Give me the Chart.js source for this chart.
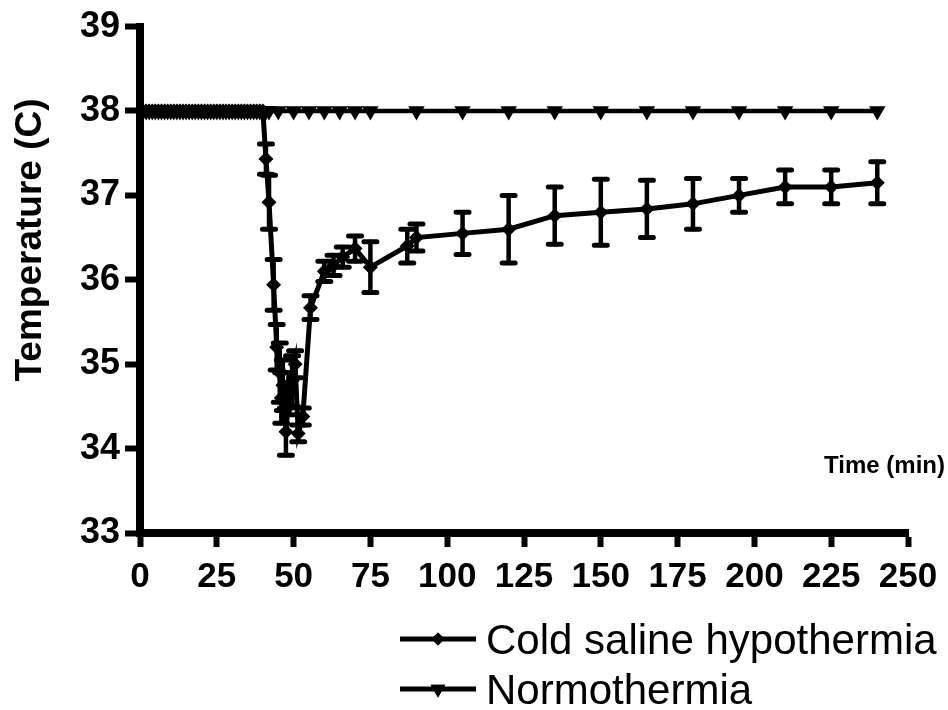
<!DOCTYPE html>
<html>
<head>
<meta charset="utf-8">
<script src="https://cdn.jsdelivr.net/npm/chart.js@4.4.0/dist/chart.umd.min.js"></script>
<style>
  body { margin: 0; background: #fff; }
  canvas { display: block; }
</style>
</head>
<body>
<canvas id="tempChart" width="948" height="710"></canvas>
<script>
// Cold saline hypothermia: time (min), mean temp (C), error (+/- C)
const coldTime = [
  0, 1, 2, 3, 4, 5, 6, 7, 8, 9, 10, 11, 12, 13, 14, 15, 16, 17, 18, 19, 20,
  21, 22, 23, 24, 25, 26, 27, 28, 29, 30, 31, 32, 33, 34, 35, 36, 37, 38, 39, 40,
  41, 42, 43.5, 44.5, 45.5, 46, 46.5, 47.5, 48.5, 49.5, 50.5, 51.5, 53, 55.5,
  60, 63, 66, 70, 75, 87, 90, 105, 120, 135, 150, 165, 180, 195, 210, 225, 240
];
const coldTemp = [
  38, 38, 38, 38, 38, 38, 38, 38, 38, 38, 38, 38, 38, 38, 38, 38, 38, 38, 38, 38, 38,
  38, 38, 38, 38, 38, 38, 38, 38, 38, 38, 38, 38, 38, 38, 38, 38, 38, 38, 38, 38,
  37.43, 36.92, 35.94, 35.2, 34.9, 34.6, 34.75, 34.2, 34.65, 34.8, 35.0, 34.18, 34.38, 35.67,
  36.1, 36.17, 36.27, 36.37, 36.15, 36.4, 36.5, 36.55, 36.6, 36.76, 36.8, 36.84, 36.9, 37.0, 37.1, 37.1, 37.15
];
const coldErr = [
  0, 0, 0, 0, 0, 0, 0, 0, 0, 0, 0, 0, 0, 0, 0, 0, 0, 0, 0, 0, 0,
  0, 0, 0, 0, 0, 0, 0, 0, 0, 0, 0, 0, 0, 0, 0, 0, 0, 0, 0, 0,
  0.18, 0.32, 0.3, 0.27, 0.35, 0.3, 0.3, 0.28, 0.25, 0.3, 0.16, 0.1, 0.1, 0.14,
  0.12, 0.12, 0.12, 0.15, 0.3, 0.2, 0.16, 0.25, 0.4, 0.34, 0.39, 0.34, 0.3, 0.2, 0.2, 0.2, 0.25
];

// Normothermia
const normTime = [
  0, 1, 2, 3, 4, 5, 6, 7, 8, 9, 10, 11, 12, 13, 14, 15, 16, 17, 18, 19, 20,
  21, 22, 23, 24, 25, 26, 27, 28, 29, 30, 31, 32, 33, 34, 35, 36, 37, 38, 39, 40,
  41, 42, 45, 50, 55, 60, 65, 70, 75,
  90, 105, 120, 135, 150, 165, 180, 195, 210, 225, 240
];
const normTemp = [
  38, 38, 38, 38, 38, 38, 38, 38, 38, 38, 38, 38, 38, 38, 38, 38, 38, 38, 38, 38, 38,
  38, 38, 38, 38, 38, 38, 38, 38, 38, 38, 38, 38, 38, 38, 38, 38, 38, 38, 38, 38,
  38, 38, 38, 38, 38, 38, 38, 38, 38,
  38, 38, 38, 38, 38, 38, 38, 38, 38, 38, 38
];

const seriesNames = ['Cold saline hypothermia', 'Normothermia'];
const xTitle = 'Time (min)';
const yTitle = 'Temperature (C)';

const FONT = "'Liberation Sans', Arial, sans-serif";

const toPoints = (xs, ys) => xs.map((x, i) => ({ x, y: ys[i] }));

// error bars for the cold saline series
const errorBars = {
  id: 'errorBars',
  afterDatasetsDraw(chart) {
    const { ctx, scales: { x, y } } = chart;
    ctx.save();
    ctx.strokeStyle = '#000';
    ctx.lineCap = 'round';
    coldTime.forEach((t, i) => {
      const e = coldErr[i];
      if (!e) return;
      const px = x.getPixelForValue(t);
      const top = y.getPixelForValue(coldTemp[i] + e);
      const bot = y.getPixelForValue(coldTemp[i] - e);
      ctx.lineWidth = 4.5;
      ctx.beginPath();
      ctx.moveTo(px, top);
      ctx.lineTo(px, bot);
      ctx.stroke();
      ctx.lineWidth = 5;
      ctx.beginPath();
      ctx.moveTo(px - 6.5, top);
      ctx.lineTo(px + 6.5, top);
      ctx.moveTo(px - 6.5, bot);
      ctx.lineTo(px + 6.5, bot);
      ctx.stroke();
    });
    ctx.restore();
  }
};

// titles and legend, placed like in the original figure
const extras = {
  id: 'extras',
  afterDraw(chart) {
    const ctx = chart.ctx;
    ctx.save();
    ctx.fillStyle = '#000';

    ctx.font = 'bold 24px ' + FONT;
    ctx.textAlign = 'right';
    ctx.textBaseline = 'alphabetic';
    ctx.fillText(xTitle, 945, 473);

    ctx.save();
    ctx.translate(31, 240);
    ctx.rotate(-Math.PI / 2);
    ctx.font = 'bold 37px ' + FONT;
    ctx.textAlign = 'center';
    ctx.textBaseline = 'middle';
    ctx.fillText(yTitle, 0, 0);
    ctx.restore();

    const rows = [
      { y: 639, style: 'rectRot', r: 6.5, rot: 0 },
      { y: 689, style: 'triangle', r: 8.5, rot: 180 }
    ];
    rows.forEach((row, i) => {
      ctx.strokeStyle = '#000';
      ctx.lineWidth = 5;
      ctx.beginPath();
      ctx.moveTo(400, row.y);
      ctx.lineTo(476, row.y);
      ctx.stroke();
      Chart.helpers.drawPoint(ctx, {
        pointStyle: row.style, radius: row.r, rotation: row.rot, borderWidth: 0
      }, 438, row.y);
      ctx.fill();
      ctx.font = '42px ' + FONT;
      ctx.textAlign = 'left';
      ctx.textBaseline = 'alphabetic';
      ctx.fillText(seriesNames[i], 486, row.y + 15);
    });
    ctx.restore();
  }
};

const axisGrid = (len) => ({
  display: true,
  drawOnChartArea: false,
  drawTicks: true,
  tickLength: len,
  tickWidth: 6,
  tickColor: '#000',
  color: '#000'
});

const tempChart = new Chart(document.getElementById('tempChart'), {
  type: 'line',
  data: {
    datasets: [
      {
        label: seriesNames[0],
        data: toPoints(coldTime, coldTemp),
        borderColor: '#000',
        backgroundColor: '#000',
        borderWidth: 5,
        tension: 0,
        pointStyle: 'rectRot',
        pointRadius: 7.5,
        pointBorderWidth: 0,
        pointBackgroundColor: '#000'
      },
      {
        label: seriesNames[1],
        data: toPoints(normTime, normTemp),
        borderColor: '#000',
        backgroundColor: '#000',
        borderWidth: 4.5,
        tension: 0,
        pointStyle: 'triangle',
        pointRotation: 180,
        pointRadius: 9.5,
        pointBorderWidth: 0,
        pointBackgroundColor: '#000'
      }
    ]
  },
  options: {
    responsive: false,
    animation: false,
    devicePixelRatio: 1,
    layout: { padding: { left: 0, right: 40, top: 23, bottom: 100 } },
    plugins: {
      legend: { display: false },
      tooltip: { enabled: false }
    },
    scales: {
      x: {
        type: 'linear',
        min: 0,
        max: 250,
        ticks: {
          stepSize: 25,
          color: '#000',
          padding: 9,
          maxRotation: 0,
          font: { family: FONT, size: 35, weight: 'bold' }
        },
        grid: axisGrid(14),
        border: { display: true, width: 8, color: '#000' },
        afterFit(scale) { scale.height = 77; }
      },
      y: {
        min: 33,
        max: 39,
        ticks: {
          stepSize: 1,
          color: '#000',
          padding: 5,
          font: { family: FONT, size: 36, weight: 'bold' }
        },
        grid: axisGrid(15),
        border: { display: true, width: 8, color: '#000' },
        afterFit(scale) { scale.width = 140; }
      }
    }
  },
  plugins: [errorBars, extras]
});
</script>
</body>
</html>
